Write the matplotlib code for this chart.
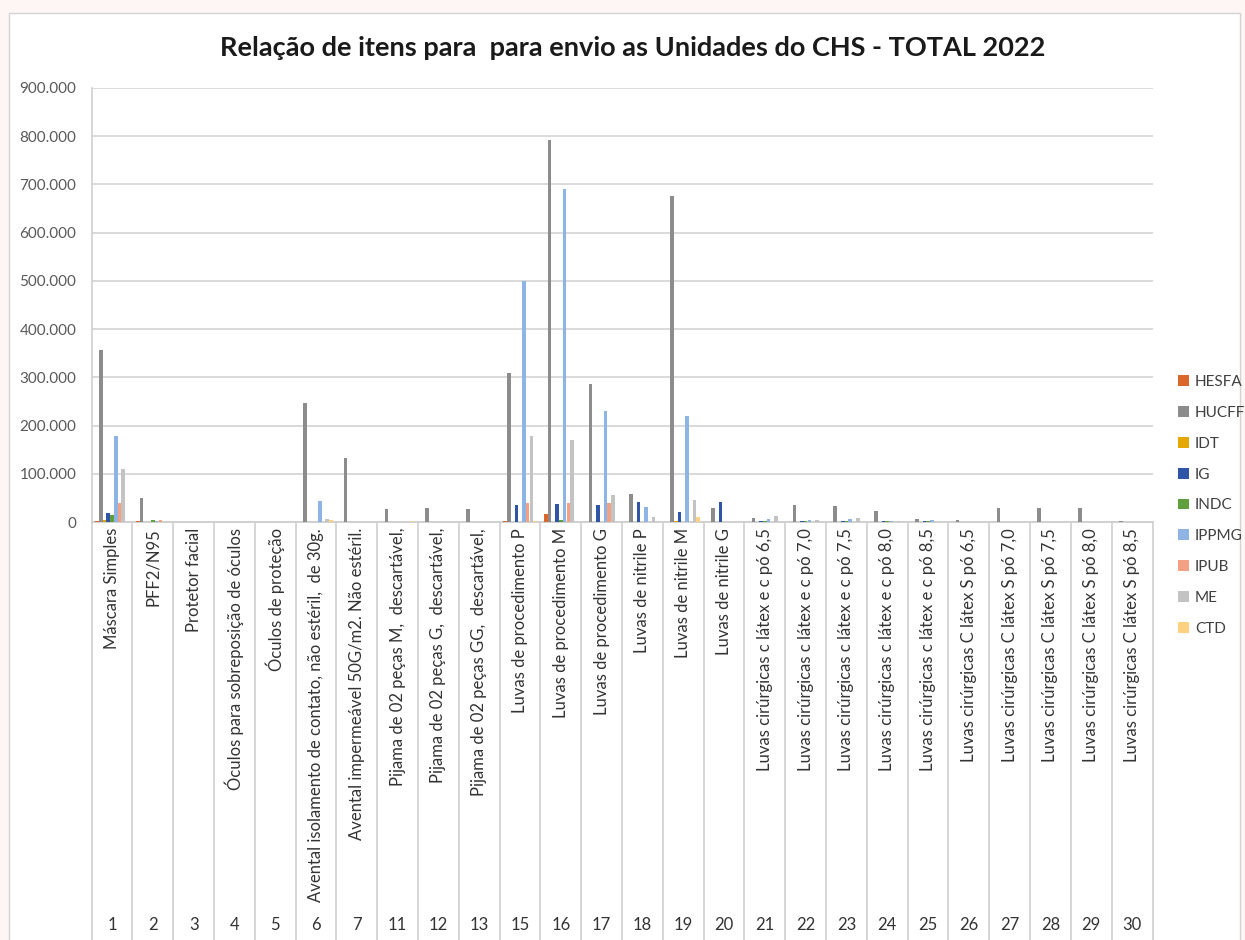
import matplotlib
matplotlib.use("Agg")
import matplotlib.pyplot as plt
import numpy as np
from matplotlib.patches import Rectangle, Patch
from matplotlib.ticker import FuncFormatter, MultipleLocator

plt.rcParams['font.family'] = ['Lato', 'DejaVu Sans']

codes = ["1", "2", "3", "4", "5", "6", "7", "11", "12", "13", "15", "16", "17",
         "18", "19", "20", "21", "22", "23", "24", "25", "26", "27", "28", "29", "30"]
items = [
    "Máscara Simples",
    "PFF2/N95",
    "Protetor facial",
    "Óculos para sobreposição de óculos",
    "Óculos de proteção",
    "Avental isolamento de contato, não estéril,  de 30g.",
    "Avental impermeável 50G/m2. Não estéril.",
    "Pijama de 02 peças M,  descartável,",
    "Pijama de 02 peças G,  descartável,",
    "Pijama de 02 peças GG,  descartável,",
    "Luvas de procedimento P",
    "Luvas de procedimento M",
    "Luvas de procedimento G",
    "Luvas de nitrile P",
    "Luvas de nitrile M",
    "Luvas de nitrile G",
    "Luvas cirúrgicas c látex e c pó 6,5",
    "Luvas cirúrgicas c látex e c pó 7,0",
    "Luvas cirúrgicas c látex e c pó 7,5",
    "Luvas cirúrgicas c látex e c pó 8,0",
    "Luvas cirúrgicas c látex e c pó 8,5",
    "Luvas cirúrgicas C látex S pó 6,5",
    "Luvas cirúrgicas C látex S pó 7,0",
    "Luvas cirúrgicas C látex S pó 7,5",
    "Luvas cirúrgicas C látex S pó 8,0",
    "Luvas cirúrgicas C látex S pó 8,5",
]

series_names = ["HESFA", "HUCFF", "IDT", "IG", "INDC", "IPPMG", "IPUB", "ME", "CTD"]
series_colors = ["#D9682A", "#8C8C8C", "#E5A800", "#2F56A6", "#5F9F3C",
                 "#8EB4E3", "#F2A184", "#C3C3C3", "#FFD180"]

HESFA = [2000, 1500, 0, 0, 0, 0, 0, 0, 0, 0, 3000, 16000, 1000, 0, 0, 0,
         0, 0, 0, 0, 0, 0, 0, 0, 0, 0]
HUCFF = [357000, 49000, 0, 0, 0, 246000, 133000, 27500, 29500, 26000, 309000, 793000,
         287000, 59000, 676000, 29000, 7500, 36000, 32500, 23500, 5500, 4500,
         30000, 30000, 30000, 3000]
IDT = [4000, 1000, 0, 0, 0, 0, 0, 0, 0, 0, 1000, 500, 500, 1000, 2000, 1000,
       0, 0, 0, 0, 0, 0, 0, 0, 0, 0]
IG = [18000, 0, 0, 0, 0, 0, 0, 0, 0, 0, 34500, 36500, 34500, 41000, 21500, 41000,
      2500, 2000, 2000, 1500, 1500, 0, 0, 0, 0, 0]
INDC = [14500, 4000, 0, 0, 0, 0, 0, 0, 0, 0, 0, 5000, 1000, 0, 0, 0,
        2000, 2000, 2000, 2000, 2000, 0, 0, 0, 0, 0]
IPPMG = [178000, 3000, 0, 0, 0, 43500, 1000, 0, 0, 0, 500000, 690000, 230000, 31000,
         219000, 0, 6000, 5000, 5500, 2000, 5000, 0, 0, 0, 0, 0]
IPUB = [38700, 5000, 0, 0, 0, 0, 0, 0, 0, 0, 40000, 40000, 40000, 0, 0, 0,
        0, 0, 0, 0, 0, 0, 0, 0, 0, 0]
ME = [110000, 1000, 0, 0, 0, 6000, 1000, 0, 0, 0, 178000, 171000, 56000, 10000,
      45000, 0, 12000, 4500, 9000, 3000, 0, 0, 1000, 0, 0, 0]
CTD = [1000, 0, 0, 0, 0, 4000, 0, 1500, 0, 0, 2000, 1000, 1000, 0, 11000, 1000,
       0, 0, 0, 0, 0, 0, 0, 0, 0, 0]

series_values = [HESFA, HUCFF, IDT, IG, INDC, IPPMG, IPUB, ME, CTD]

W, H = 1245, 940
fig = plt.figure(figsize=(W / 100, H / 100), dpi=100)
fig.patch.set_facecolor("#FDF6F5")

# chart area
fig.patches.append(Rectangle((9 / W, -0.01), (1240 - 9) / W, 1 - 13 / H + 0.01,
                             transform=fig.transFigure, facecolor="white",
                             edgecolor="#D4D4D4", linewidth=1.0, zorder=-5))

ax_l, ax_r, ax_t, ax_b = 91.6, 1152.5, 88, 522
ax = fig.add_axes([ax_l / W, 1 - ax_b / H, (ax_r - ax_l) / W, (ax_b - ax_t) / H])
ax.set_zorder(2)
ax.set_facecolor("white")

n = len(codes)
x = np.arange(n)
bw = 0.092
for j, (name, vals, col) in enumerate(zip(series_names, series_values, series_colors)):
    ax.bar(x + (j - 4) * bw, vals, width=bw * 0.95, color=col, label=name, zorder=3)

ax.set_xlim(-0.5, n - 0.5)
ax.set_ylim(0, 900000)
ax.yaxis.set_major_locator(MultipleLocator(100000))
ax.yaxis.set_major_formatter(FuncFormatter(
    lambda v, p: "0" if v == 0 else f"{v:,.0f}".replace(",", ".")))
ax.grid(axis="y", color="#D9D9D9", linewidth=1.4, zorder=0)
ax.set_axisbelow(True)
for s in ["top", "right"]:
    ax.spines[s].set_visible(False)
ax.spines["left"].set_color("#D0D0D0")
ax.spines["left"].set_linewidth(1.2)
ax.spines["bottom"].set_color("#D0D0D0")
ax.spines["bottom"].set_linewidth(1.4)
ax.tick_params(axis="y", length=0, pad=11, labelsize=11, labelcolor="#595959")
ax.set_xticks([])

# category separators extending down through label area
tr = ax.get_xaxis_transform()
yb = -(H - ax_b) / (ax_b - ax_t) - 0.01
for k in range(n + 1):
    ax.plot([k - 0.5, k - 0.5], [0, yb], transform=tr, color="#D0D0D0",
            linewidth=1.2, clip_on=False, zorder=1)

# item labels (rotated) and codes
y_lab = -(528 - ax_b) / (ax_b - ax_t)
y_code = -(925 - ax_b) / (ax_b - ax_t)
for i in range(n):
    ax.text(i, y_lab, items[i], transform=tr, rotation=90, ha="center", va="top",
            fontsize=12, color="#333333")
    ax.text(i, y_code, codes[i], transform=tr, ha="center", va="center",
            fontsize=12, color="#333333")

fig.text(633 / W, 1 - 48 / H,
         "Relação de itens para  para envio as Unidades do CHS - TOTAL 2022",
         ha="center", va="center", fontsize=19.5, fontweight="bold", color="#1a1a1a")

handles = [Patch(facecolor=c, edgecolor="none") for c in series_colors]
fig.legend(handles, series_names, loc="upper left",
           bbox_to_anchor=(1172 / W, 1 - 369 / H), frameon=False,
           fontsize=11, labelcolor="#404040", handlelength=0.7, handleheight=0.7,
           handletextpad=0.4, labelspacing=1.1, borderaxespad=0)

fig.savefig("out.png", dpi=100, facecolor=fig.get_facecolor())
